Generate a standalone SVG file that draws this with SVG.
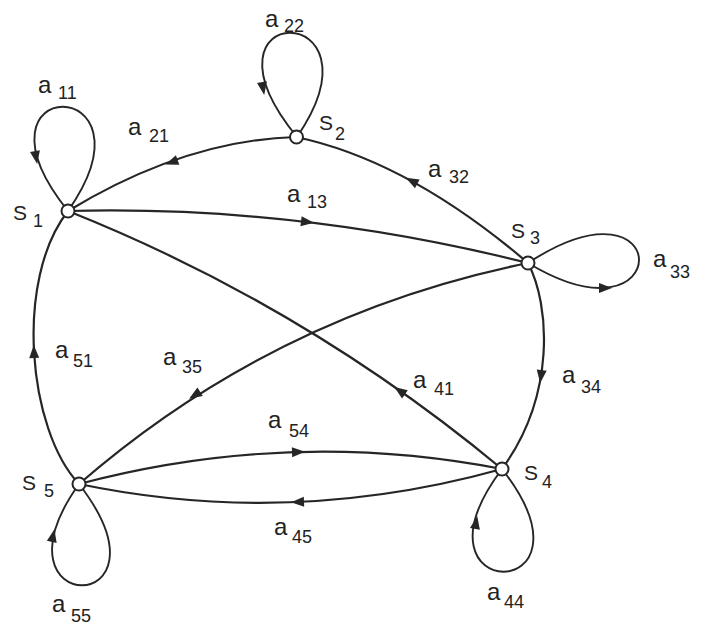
<svg xmlns="http://www.w3.org/2000/svg" xmlns:xlink="http://www.w3.org/1999/xlink" width="705" height="626" viewBox="0 0 705 626">
<style>
.edge{fill:none;stroke:#262626;stroke-width:2.2;stroke-linecap:round}
.loop{fill:none;stroke:#262626;stroke-width:1.9}
.node{fill:#fff;stroke:#262626;stroke-width:2}
.t{font-family:"Liberation Sans",Arial,sans-serif;fill:#222;font-size:24px}
.sub{font-size:18px}
.s{font-size:21px}
.ah{fill:#262626}
</style>
<defs>
<path id="ah" class="ah" d="M7,0 L-6,-5 L-6,5 Z"/>
</defs>
<rect width="705" height="626" fill="#fff"/>
<g id="connectors">
  <g id="e11"><path class="loop" d="M68,211 C165,72 -43,72 68,211"/><use xlink:href="#ah" transform="translate(36,157) rotate(80)"/><text class="t" x="38" y="93">a<tspan class="sub" x="58" y="99">11</tspan></text></g>
  <g id="e22"><path class="loop" d="M297,137 C391.7,-2 183.7,-2 297,137"/><use xlink:href="#ah" transform="translate(263,88) rotate(80)"/><text class="t" x="265" y="27">a<tspan class="sub" x="284" y="32">22</tspan></text></g>
  <g id="e33"><path class="loop" d="M528,263 C676,352 676,166 528,263"/><use xlink:href="#ah" transform="translate(605,288) rotate(0)"/><text class="t" x="653" y="267">a<tspan class="sub" x="670" y="278">33</tspan></text></g>
  <g id="e44"><path class="loop" d="M502,469 C609,606 399,606 502,469"/><use xlink:href="#ah" transform="translate(476,523) rotate(-80)"/><text class="t" x="487" y="600">a<tspan class="sub" x="504" y="608">44</tspan></text></g>
  <g id="e55"><path class="loop" d="M79,484 C183,619 -17,619 79,484"/><use xlink:href="#ah" transform="translate(53,536) rotate(-78)"/><text class="t" x="52" y="612">a<tspan class="sub" x="71" y="622">55</tspan></text></g>
  <g id="e21"><path class="edge" d="M296,137 Q185,140 68,211"/><use xlink:href="#ah" transform="translate(172,162) rotate(160)"/><text class="t" x="128" y="135">a<tspan class="sub" x="149" y="142">21</tspan></text></g>
  <g id="e32"><path class="edge" d="M528,263 Q408,160.5 296,137"/><use xlink:href="#ah" transform="translate(412,181) rotate(208)"/><text class="t" x="428" y="177">a<tspan class="sub" x="449" y="183">32</tspan></text></g>
  <g id="e13"><path class="edge" d="M68,211 Q298,205 528,263"/><use xlink:href="#ah" transform="translate(307,222) rotate(7)"/><text class="t" x="287" y="202">a<tspan class="sub" x="307" y="208">13</tspan></text></g>
  <g id="e41"><path class="edge" d="M502,469 Q305.4,305.6 68,211"/><use xlink:href="#ah" transform="translate(400,391) rotate(215)"/><text class="t" x="413" y="388">a<tspan class="sub" x="434" y="395">41</tspan></text></g>
  <g id="e35"><path class="edge" d="M528,263 Q274.3,314.3 79,484"/><use xlink:href="#ah" transform="translate(195,395) rotate(148)"/><text class="t" x="163" y="365">a<tspan class="sub" x="182" y="373">35</tspan></text></g>
  <g id="e34"><path class="edge" d="M528,263 C550,305 556,395 502,469"/><use xlink:href="#ah" transform="translate(541,376) rotate(97)"/><text class="t" x="562" y="383">a<tspan class="sub" x="581" y="393">34</tspan></text></g>
  <g id="e51"><path class="edge" d="M79,484 C28,430 14,280 68,211"/><use xlink:href="#ah" transform="translate(34,352) rotate(-92)"/><text class="t" x="55" y="358">a<tspan class="sub" x="73" y="367">51</tspan></text></g>
  <g id="e54"><path class="edge" d="M79,484 Q290,428 502,469"/><use xlink:href="#ah" transform="translate(298,452) rotate(-2)"/><text class="t" x="268" y="428">a<tspan class="sub" x="289" y="437">54</tspan></text></g>
  <g id="e45"><path class="edge" d="M502,469 Q290,528 79,484"/><use xlink:href="#ah" transform="translate(298,502) rotate(178)"/><text class="t" x="274" y="535">a<tspan class="sub" x="292" y="543">45</tspan></text></g>
</g>
<g id="S1"><circle class="node" cx="68" cy="211" r="6.5"/><text class="t s" x="13" y="220">S<tspan class="sub" x="33" y="227">1</tspan></text></g>
<g id="S2"><circle class="node" cx="296.5" cy="137" r="6.5"/><text class="t s" x="319" y="130">S<tspan class="sub" x="335" y="140">2</tspan></text></g>
<g id="S3"><circle class="node" cx="528" cy="263" r="6.5"/><text class="t s" x="511" y="238">S<tspan class="sub" x="530" y="244">3</tspan></text></g>
<g id="S4"><circle class="node" cx="502" cy="469" r="6.5"/><text class="t s" x="524" y="480">S<tspan class="sub" x="542" y="488">4</tspan></text></g>
<g id="S5"><circle class="node" cx="79" cy="484" r="6.5"/><text class="t s" x="22" y="490">S<tspan class="sub" x="44" y="497">5</tspan></text></g>
</svg>
